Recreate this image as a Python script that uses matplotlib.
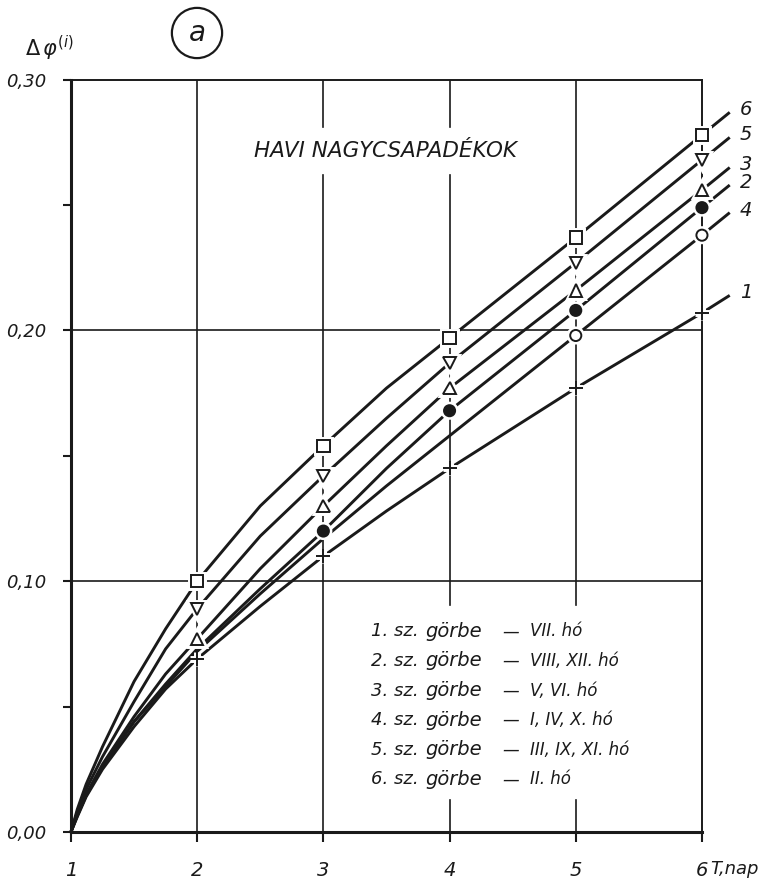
"""
Havi nagycsapadékok: Δφ(i) görbék T (nap) függvényében, 6 görbe.
Output: out.png (763x886)
"""

import matplotlib.patheffects as pe
import matplotlib.pyplot as plt
from matplotlib.ticker import FixedLocator

# x positions (1 .. 6 plus the overhang past 6)
CURVE_X = [1, 1.05, 1.12, 1.25, 1.5, 1.75, 2, 2.5, 3, 3.5, 4, 5, 6, 6.22]

CURVE_6 = [0, 0.009, 0.019, 0.034, 0.060, 0.081, 0.100, 0.130, 0.154, 0.177, 0.197, 0.237, 0.278, 0.287]
CURVE_5 = [0, 0.008, 0.017, 0.030, 0.052, 0.073, 0.089, 0.118, 0.142, 0.165, 0.187, 0.227, 0.268, 0.277]
CURVE_3 = [0, 0.007, 0.015, 0.027, 0.046, 0.063, 0.077, 0.105, 0.130, 0.154, 0.177, 0.216, 0.256, 0.265]
CURVE_2 = [0, 0.0065, 0.0145, 0.026, 0.044, 0.059, 0.073, 0.097, 0.120, 0.145, 0.168, 0.208, 0.249, 0.258]
CURVE_4 = [0, 0.0065, 0.0145, 0.026, 0.044, 0.058, 0.072, 0.095, 0.117, 0.138, 0.158, 0.198, 0.238, 0.247]
CURVE_1 = [0, 0.006, 0.014, 0.025, 0.042, 0.057, 0.069, 0.090, 0.110, 0.128, 0.145, 0.177, 0.207, 0.214]

# marker points (x, y) per curve
MARK_6 = ([2, 3, 4, 5, 6], [0.100, 0.154, 0.197, 0.237, 0.278])
MARK_5 = ([2, 3, 4, 5, 6], [0.089, 0.142, 0.187, 0.227, 0.268])
MARK_3 = ([2, 3, 4, 5, 6], [0.077, 0.130, 0.177, 0.216, 0.256])
MARK_2 = ([3, 4, 5, 6], [0.120, 0.168, 0.208, 0.249])
MARK_4 = ([5, 6], [0.198, 0.238])
MARK_1 = ([2, 3, 4, 5, 6], [0.069, 0.110, 0.145, 0.177, 0.207])

CURVE_NAMES = ["6", "5", "3", "2", "4", "1"]

LEGEND_NUMS = ["1. sz.", "2. sz.", "3. sz.", "4. sz.", "5. sz.", "6. sz."]
LEGEND_MONTHS = ["VII. hó", "VIII, XII. hó", "V, VI. hó", "I, IV, X. hó",
                 "III, IX, XI. hó", "II. hó"]

X_TICKS = [1, 2, 3, 4, 5, 6]
X_LABELS = ["1", "2", "3", "4", "5", "6"]
Y_TICKS = [0.0, 0.10, 0.20, 0.30]
Y_LABELS = ["0,00", "0,10", "0,20", "0,30"]
Y_MINOR = [0.05, 0.15, 0.25]

TITLE = "HAVI NAGYCSAPADÉKOK"

INK = "#1a1a1a"
FONT = {"family": "DejaVu Sans", "style": "oblique"}


def main() -> None:
    fig = plt.figure(figsize=(7.63, 8.86), dpi=100)
    ax = fig.add_axes([0.093, 0.061, 0.827, 0.849])
    ax.set_xlim(1, 6)
    ax.set_ylim(0, 0.30)

    halo = [pe.withStroke(linewidth=5, foreground="white")]

    # grid, with the gaps left for the title and the legend block
    for y in (0.10, 0.20):
        ax.plot([1, 6], [y, y], color=INK, lw=1.2, zorder=1)
    gaps = {2: [], 3: [(0.262, 0.281)], 4: [(0.0128, 0.0906), (0.262, 0.281)],
            5: [(0.0128, 0.0906)]}
    for x, cuts in gaps.items():
        y0 = 0.0
        for lo, hi in cuts:
            ax.plot([x, x], [y0, lo], color=INK, lw=1.2, zorder=1)
            y0 = hi
        ax.plot([x, x], [y0, 0.30], color=INK, lw=1.2, zorder=1)

    curves = [CURVE_6, CURVE_5, CURVE_3, CURVE_2, CURVE_4, CURVE_1]
    for name, ys in zip(CURVE_NAMES, curves):
        ax.plot(CURVE_X, ys, color=INK, lw=2.1, zorder=2, clip_on=False,
                solid_capstyle="butt", solid_joinstyle="round")
        ax.text(CURVE_X[-1] + 0.13, ys[-1] + 0.001, name, ha="center",
                va="center", fontsize=14, color=INK, **FONT)

    mk = dict(color=INK, ls="none", zorder=4, clip_on=False, path_effects=halo,
              markeredgewidth=1.4, markeredgecolor=INK)
    ax.plot(*MARK_6, marker="s", ms=9, mfc="white", **mk)
    ax.plot(*MARK_5, marker="v", ms=9, mfc="white", **mk)
    ax.plot(*MARK_3, marker="^", ms=9, mfc="white", **mk)
    ax.plot(*MARK_2, marker="o", ms=8, mfc=INK, **mk)
    ax.plot(*MARK_4, marker="o", ms=8, mfc="white", **mk)
    ax.plot(*MARK_1, marker="+", ms=10, mfc="white", **mk)

    # axes frame
    for side in ("left", "bottom"):
        ax.spines[side].set_linewidth(2.2)
    for side in ("top", "right"):
        ax.spines[side].set_linewidth(1.4)
    for s in ax.spines.values():
        s.set_color(INK)

    ax.xaxis.set_major_locator(FixedLocator(X_TICKS))
    ax.set_xticklabels(X_LABELS, fontsize=14, **FONT)
    ax.yaxis.set_major_locator(FixedLocator(Y_TICKS))
    ax.yaxis.set_minor_locator(FixedLocator(Y_MINOR))
    ax.set_yticklabels(Y_LABELS, fontsize=13, **FONT)
    ax.tick_params(axis="x", direction="out", length=7, width=1.5, pad=14, colors=INK)
    ax.tick_params(axis="y", which="both", direction="out", length=6, width=1.5,
                   pad=12, colors=INK)

    ax.text(6.065, -0.0148, "T,nap", fontsize=13, ha="left", va="center",
            color=INK, clip_on=False, **FONT)
    ax.text(0.83, 0.3125, r"$\Delta\,\varphi^{(i)}$", fontsize=15, ha="center",
            va="center", color=INK, clip_on=False)

    # circled panel letter
    fig.text(197 / 763, 1 - 33 / 886, "a", fontsize=20, ha="center", va="center",
             color=INK, **FONT,
             bbox=dict(boxstyle="circle,pad=0.4", fc="white", ec=INK, lw=1.6))

    ax.text(3.49, 0.2715, TITLE, fontsize=15.5, ha="center", va="center",
            color=INK, **FONT)

    row_y = 0.080
    for num, months in zip(LEGEND_NUMS, LEGEND_MONTHS):
        ax.text(3.38, row_y, num, fontsize=13, ha="left", va="center", color=INK, **FONT)
        ax.text(3.81, row_y, "görbe", fontsize=14, ha="left", va="center", color=INK, **FONT)
        ax.text(4.42, row_y, "—", fontsize=12, ha="left", va="center", color=INK, **FONT)
        ax.text(4.64, row_y, months, fontsize=12, ha="left", va="center", color=INK, **FONT)
        row_y -= 0.0118

    fig.savefig("out.png", dpi=100, facecolor="white")
    plt.close(fig)


if __name__ == "__main__":
    main()
